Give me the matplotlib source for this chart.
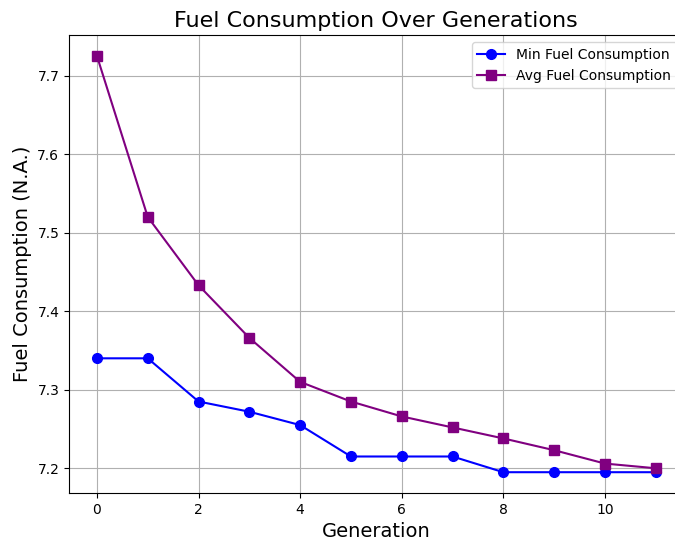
import matplotlib.pyplot as plt

generations = list(range(12))
min_fuel = [7.340, 7.340, 7.285, 7.272, 7.255, 7.215, 7.215, 7.215, 7.195, 7.195, 7.195, 7.195]
avg_fuel = [7.725, 7.520, 7.433, 7.366, 7.310, 7.285, 7.266, 7.252, 7.238, 7.223, 7.206, 7.200]

fig = plt.figure(figsize=(6.75, 5.4), dpi=100)
ax = fig.add_axes([0.1022, 0.087, 0.9107, 0.848])

ax.plot(generations, min_fuel, marker='o', color='blue', markersize=7, label='Min Fuel Consumption')
ax.plot(generations, avg_fuel, marker='s', color='purple', markersize=7, label='Avg Fuel Consumption')

ax.set_title('Fuel Consumption Over Generations', fontsize=16)
ax.set_xlabel('Generation', fontsize=14)
ax.set_ylabel('Fuel Consumption (N.A.)', fontsize=14)
ax.grid(True)
ax.legend(loc='upper right')

fig.savefig('out.png', dpi=100)
